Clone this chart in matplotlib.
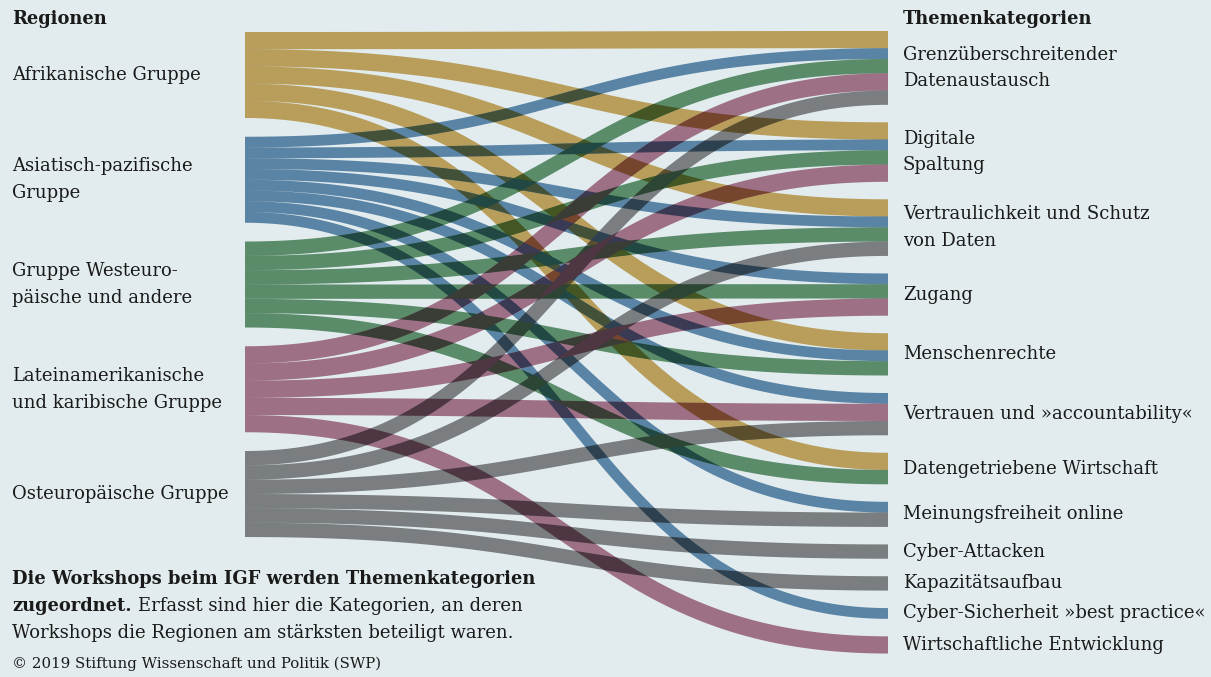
import numpy as np
import matplotlib
matplotlib.use("Agg")
import matplotlib.pyplot as plt
from matplotlib.patches import Polygon
import matplotlib.colors as mcolors

'''
Alluvial chart: IGF workshops, regions -> topic categories.
'''

# ---------------------------------
# Data
# ---------------------------------

regions = [
    "Afrikanische Gruppe",
    "Asiatisch-pazifische\nGruppe",
    "Gruppe Westeuro-\npäische und andere",
    "Lateinamerikanische\nund karibische Gruppe",
    "Osteuropäische Gruppe",
]

region_colors = ["#b89e5a", "#5a84a5", "#5a8c69", "#9e7086", "#7a7e80"]

categories = [
    "Grenzüberschreitender\nDatenaustausch",
    "Digitale\nSpaltung",
    "Vertraulichkeit und Schutz\nvon Daten",
    "Zugang",
    "Menschenrechte",
    "Vertrauen und »accountability«",
    "Datengetriebene Wirtschaft",
    "Meinungsfreiheit online",
    "Cyber-Attacken",
    "Kapazitätsaufbau",
    "Cyber-Sicherheit »best practice«",
    "Wirtschaftliche Entwicklung",
]

# share of a region's workshops per category (%)
link_source = [0, 0, 0, 0, 0,
               1, 1, 1, 1, 1, 1, 1, 1,
               2, 2, 2, 2, 2, 2,
               3, 3, 3, 3, 3,
               4, 4, 4, 4, 4, 4]
link_target = [0, 1, 2, 4, 6,
               0, 1, 2, 3, 4, 5, 7, 10,
               0, 1, 2, 3, 4, 6,
               0, 1, 3, 5, 11,
               0, 2, 5, 7, 8, 9]
link_value = [20, 20, 20, 20, 20,
              12.5, 12.5, 12.5, 12.5, 12.5, 12.5, 12.5, 12.5,
              16.67, 16.67, 16.67, 16.67, 16.67, 16.67,
              20, 20, 20, 20, 20,
              16.67, 16.67, 16.67, 16.67, 16.67, 16.67]

caption_bold = "Die Workshops beim IGF werden Themenkategorien"
caption_bold2 = "zugeordnet."
caption_rest = "Erfasst sind hier die Kategorien, an deren"
caption_line3 = "Workshops die Regionen am stärksten beteiligt waren."
copyright_txt = "© 2019 Stiftung Wissenschaft und Politik (SWP)"

# ---------------------------------
# Layout (pixel units)
# ---------------------------------

W, H = 1211, 677
bg = "#e2ecef"
txt_color = "#1a1a1a"
font = "DejaVu Serif"

scale = 0.86          # px per percent
x_left, x_right = 245, 888
left_top, left_gap = 32, 18.75
right_top, right_gap = 31, 17.5

n_links = len(link_value)
widths = [v * scale for v in link_value]

src_tot = np.zeros(len(regions))
tgt_tot = np.zeros(len(categories))
for s, t, w in zip(link_source, link_target, widths):
    src_tot[s] += w
    tgt_tot[t] += w

src_y0 = left_top + np.concatenate([[0], np.cumsum(src_tot[:-1] + left_gap)])
tgt_y0 = right_top + np.concatenate([[0], np.cumsum(tgt_tot[:-1] + right_gap)])

# offsets: at sources ordered by target, at targets ordered by source
y_left = np.zeros(n_links)
y_right = np.zeros(n_links)
off = src_y0.copy()
for i in sorted(range(n_links), key=lambda k: (link_source[k], link_target[k])):
    y_left[i] = off[link_source[i]] + widths[i] / 2
    off[link_source[i]] += widths[i]
off = tgt_y0.copy()
for i in sorted(range(n_links), key=lambda k: (link_target[k], link_source[k])):
    y_right[i] = off[link_target[i]] + widths[i] / 2
    off[link_target[i]] += widths[i]


def ribbon(x0, y0, x1, y1, w, n=160):
    t = np.linspace(0, 1, n)
    xm = (x0 + x1) / 2
    bx = (1 - t)**3 * x0 + 3 * (1 - t)**2 * t * xm + 3 * (1 - t) * t**2 * xm + t**3 * x1
    by = (1 - t)**3 * y0 + 3 * (1 - t)**2 * t * y0 + 3 * (1 - t) * t**2 * y1 + t**3 * y1
    dx = 3 * (1 - t)**2 * (xm - x0) + 3 * t**2 * (x1 - xm)
    dy = 6 * (1 - t) * t * (y1 - y0)
    nrm = np.hypot(dx, dy)
    nx, ny = -dy / nrm, dx / nrm
    upper = np.column_stack([bx + nx * w / 2, by + ny * w / 2])
    lower = np.column_stack([bx - nx * w / 2, by - ny * w / 2])
    return np.vstack([upper, lower[::-1]])


# ---------------------------------
# Figure
# ---------------------------------

fig = plt.figure(figsize=(W / 100, H / 100), dpi=100, facecolor=bg)
ax = fig.add_axes([0, 0, 1, 1])
ax.set_xlim(0, W)
ax.set_ylim(H, 0)
ax.axis("off")
ax.set_facecolor(bg)

bg_rgb = np.array(mcolors.to_rgb(bg))
cols = [np.array(mcolors.to_rgb(region_colors[s])) for s in link_source]

polys = [ribbon(x_left, y_left[i], x_right, y_right[i], widths[i]) for i in range(n_links)]
patches = []
for i in range(n_links):
    p = Polygon(polys[i], closed=True, fc=cols[i], ec="none", zorder=2)
    ax.add_patch(p)
    patches.append(p)

# multiply-style darkening where ribbons cross
for i in range(n_links):
    for j in range(i + 1, n_links):
        a, b = polys[i], polys[j]
        if (a[:, 1].max() < b[:, 1].min()) or (b[:, 1].max() < a[:, 1].min()):
            continue
        c = np.clip(cols[i] * cols[j] / bg_rgb * 0.92, 0, 1)
        q = Polygon(b, closed=True, fc=c, ec="none", zorder=3)
        ax.add_patch(q)
        q.set_clip_path(patches[i])

# ---------------------------------
# Labels
# ---------------------------------

fs = 13.0
fs_b = 12.9
ls = 1.62
ax.text(12, 19, "Regionen", fontsize=fs_b, weight="bold", family=font,
        color=txt_color, va="center", ha="left")
ax.text(903, 19, "Themenkategorien", fontsize=fs_b, weight="bold", family=font,
        color=txt_color, va="center", ha="left")

for k, name in enumerate(regions):
    ax.text(12, src_y0[k] + src_tot[k] / 2, name, fontsize=fs, family=font,
            color=txt_color, va="center", ha="left", linespacing=ls)

for k, name in enumerate(categories):
    ax.text(903, tgt_y0[k] + tgt_tot[k] / 2, name, fontsize=fs, family=font,
            color=txt_color, va="center", ha="left", linespacing=ls)

# ---------------------------------
# Caption
# ---------------------------------

ax.text(12, 579, caption_bold, fontsize=fs_b, weight="bold", family=font,
        color=txt_color, va="center", ha="left")
t2 = ax.text(12, 606, caption_bold2, fontsize=fs_b, weight="bold", family=font,
             color=txt_color, va="center", ha="left")
renderer = fig.canvas.get_renderer()
bb = t2.get_window_extent(renderer=renderer)
x_end = ax.transData.inverted().transform((bb.x1, bb.y0))[0]
ax.text(x_end + 6, 606, caption_rest, fontsize=fs, family=font,
        color=txt_color, va="center", ha="left")
ax.text(12, 633, caption_line3, fontsize=fs, family=font,
        color=txt_color, va="center", ha="left")
ax.text(12, 664, copyright_txt, fontsize=10.8, family=font,
        color=txt_color, va="center", ha="left")

fig.savefig("out.png", dpi=100, facecolor=bg)
